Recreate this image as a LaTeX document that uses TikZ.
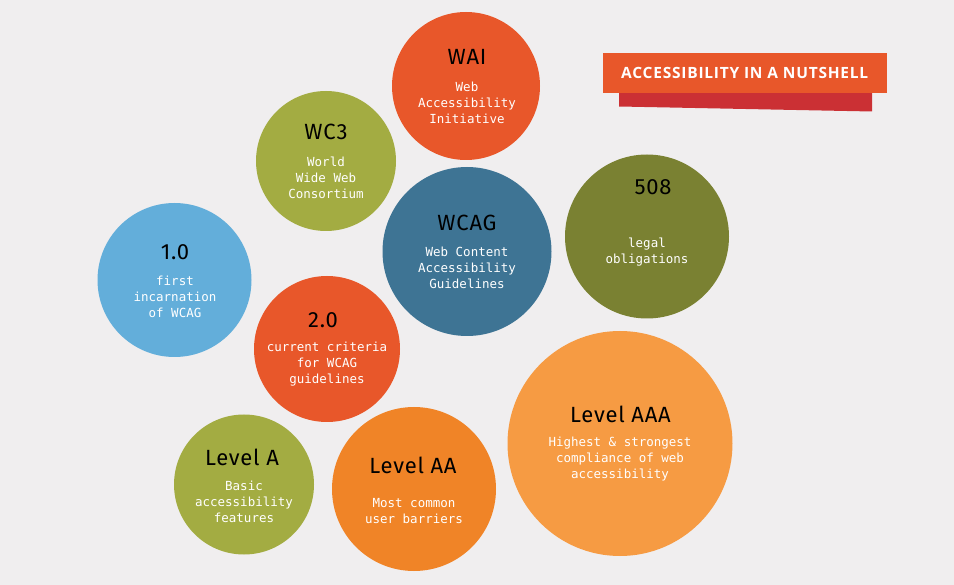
\documentclass[tikz,border=0pt]{standalone}
\usepackage{fontspec}
\setmainfont{Fira Sans}[LetterSpace=3.5]
\newfontfamily\descfont{DejaVu Sans Mono}
\newfontfamily\bannerfont[LetterSpace=5]{Open Sans}
\definecolor{paper}{HTML}{F0EEEF}
\definecolor{redorange}{HTML}{E8572A}
\definecolor{olive}{HTML}{A3AC42}
\definecolor{darkolive}{HTML}{7A8132}
\definecolor{steelblue}{HTML}{3E7494}
\definecolor{skyblue}{HTML}{63AEDA}
\definecolor{orange}{HTML}{F08427}
\definecolor{lightorange}{HTML}{F69B43}
\definecolor{shadowred}{HTML}{CB3034}
\begin{document}
\begin{tikzpicture}[x=1pt,y=-1pt,
	bubble/.style={circle,inner sep=0pt,draw=none},
	head/.style={font=\fontsize{22}{25}\selectfont,text=black,inner sep=0pt},
	desc/.style={font=\descfont\fontsize{12.5}{16.3}\selectfont,text=white,align=center,inner sep=0pt}]
	% --- Nền và khung hình ---
	\fill[paper] (0,0) rectangle (954,585);
	\useasboundingbox (0,0) rectangle (954,585);
	% --- Tiêu đề ---
	\fill[shadowred] (619,90)--(872,90)--(872,111.5)--(619,106.5)--cycle;
	\node[fill=redorange,minimum width=284pt,minimum height=40pt,text=white,
		font=\bannerfont\bfseries\fontsize{15.5}{17}\selectfont] (banner) at (744.7,72.7) {ACCESSIBILITY IN A NUTSHELL};
	% --- Các vòng tròn ---
	\node[bubble,fill=redorange,minimum size=148pt] (wai) at (466,86) {};
	\node[bubble,fill=olive,minimum size=140pt] (wc3) at (326,161) {};
	\node[bubble,fill=steelblue,minimum size=169pt] (wcag) at (467,251.5) {};
	\node[bubble,fill=darkolive,minimum size=164pt] (sec508) at (647,236.5) {};
	\node[bubble,fill=skyblue,minimum size=154pt] (wcag1) at (174.5,280) {};
	\node[bubble,fill=redorange,minimum size=146pt] (wcag2) at (327,349) {};
	\node[bubble,fill=olive,minimum size=140pt] (lvla) at (244,484.5) {};
	\node[bubble,fill=orange,minimum size=164pt] (lvlaa) at (414,489) {};
	\node[bubble,fill=lightorange,minimum size=225pt] (lvlaaa) at (620,443.5) {};
	% --- Chữ trong vòng tròn ---
	\node[head] (wai-h) at (467,57) {WAI};
	\node[desc] (wai-d) at (467,103) {Web\\Accessibility\\Initiative};
	\node[head] (wc3-h) at (326,132) {WC3};
	\node[desc] (wc3-d) at (326,178) {World\\Wide Web\\Consortium};
	\node[head] (wcag-h) at (467,222.5) {WCAG};
	\node[desc] (wcag-d) at (467,268) {Web Content\\Accessibility\\Guidelines};
	\node[head] (sec508-h) at (653,187.5) {508};
	\node[desc] (sec508-d) at (647,252) {legal\\obligations};
	\node[head] (wcag1-h) at (175,252.5) {1.0};
	\node[desc] (wcag1-d) at (175,297) {first\\incarnation\\of WCAG};
	\node[head] (wcag2-h) at (323,320) {2.0};
	\node[desc] (wcag2-d) at (327,364) {current criteria\\for WCAG\\guidelines};
	\node[head] (lvla-h) at (242,457) {Level A};
	\node[desc] (lvla-d) at (244,502) {Basic\\accessibility\\features};
	\node[head] (lvlaa-h) at (413,465) {Level AA};
	\node[desc] (lvlaa-d) at (414,511) {Most common\\user barriers};
	\node[head] (lvlaaa-h) at (620.5,414.5) {Level AAA};
	\node[desc] (lvlaaa-d) at (620,459) {Highest \& strongest\\compliance of web\\accessibility};
\end{tikzpicture}
\end{document}
